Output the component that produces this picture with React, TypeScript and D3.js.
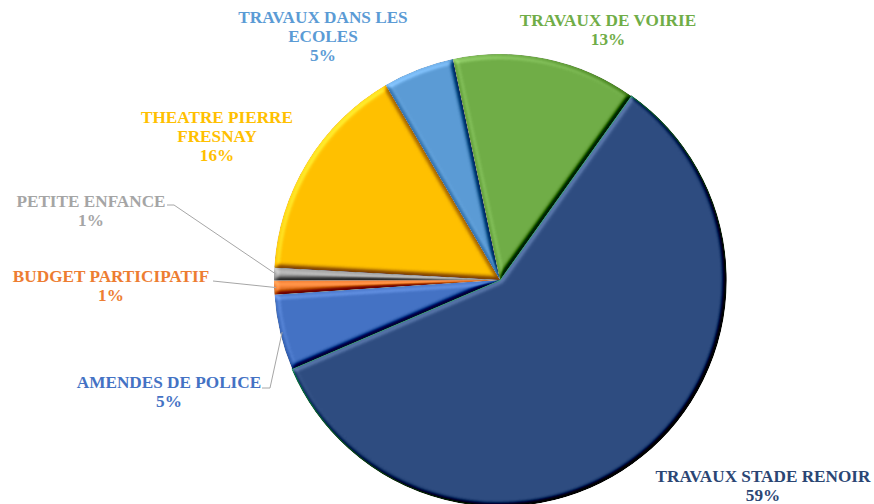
import * as d3 from "d3";

// slice order clockwise, starting at the Stade Renoir slice
const categories = [
  "TRAVAUX STADE RENOIR",
  "AMENDES DE POLICE",
  "BUDGET PARTICIPATIF",
  "PETITE ENFANCE",
  "THEATRE PIERRE FRESNAY",
  "TRAVAUX DANS LES ECOLES",
  "TRAVAUX DE VOIRIE",
];
const values = [58.7, 5.4, 1.0, 0.9, 15.7, 5.1, 13.2];
const labelLines = [
  ["TRAVAUX STADE RENOIR"],
  ["AMENDES DE POLICE"],
  ["BUDGET PARTICIPATIF"],
  ["PETITE ENFANCE"],
  ["THEATRE PIERRE", "FRESNAY"],
  ["TRAVAUX DANS LES", "ECOLES"],
  ["TRAVAUX DE VOIRIE"],
];
const colors = ["#2E4C80", "#4472C4", "#ED7D31", "#A5A5A5", "#FFC000", "#5B9BD5", "#70AD47"];
const textColors = ["#2B4674", "#4472C4", "#ED7D31", "#A5A5A5", "#FFC000", "#5B9BD5", "#70AD47"];

// label placement (text centre x, first baseline y) and leader lines
const labelPos = [
  [763, 482],
  [169, 388],
  [111, 282],
  [91, 207],
  [217, 123],
  [323, 23],
  [608, 26],
];
const leaderFrom: ([number, number, number] | null)[] = [
  null,
  [262, 388, 270], // start x, y, elbow x
  [213, 281, 213],
  [167, 205, 174],
  null,
  null,
  null,
];

const W = 874;
const H = 504;
const cx = 500;
const cy = 280;
const R = 226;
const start = (35.5 * Math.PI) / 180;

export default function App() {
  const total = d3.sum(values);
  const pie = d3
    .pie<number>()
    .sort(null)
    .startAngle(start)
    .endAngle(start + Math.PI * 2)
    .value((d) => d);
  const arcs = pie(values);
  const arc = d3.arc<d3.PieArcDatum<number>>().innerRadius(0).outerRadius(R);
  const rim = d3.arc<d3.PieArcDatum<number>>().innerRadius(R - 2).outerRadius(R - 2);

  return (
    <svg
      width={W}
      height={H}
      style={{ position: "absolute", left: 0, top: 0, background: "#fff" }}
    >
      <defs>
        <filter id="bevel" x="-10%" y="-10%" width="120%" height="120%" colorInterpolationFilters="sRGB">
          <feGaussianBlur in="SourceAlpha" stdDeviation="2.5" result="blur" />
          <feDiffuseLighting in="blur" surfaceScale="5" diffuseConstant="1" lightingColor="#ffffff" result="light">
            <feDistantLight azimuth={225} elevation={50} />
          </feDiffuseLighting>
          <feComposite in="SourceGraphic" in2="light" operator="arithmetic" k1="0" k2="1" k3="0.7" k4="-0.536" result="lit" />
          <feComposite in="lit" in2="SourceAlpha" operator="in" />
        </filter>
      </defs>
      <g transform={`translate(${cx},${cy})`}>
        {arcs.map((a, i) => (
          <path
            key={categories[i]}
            d={arc(a) || ""}
            fill={colors[i]}
            filter="url(#bevel)"
            stroke={i === 0 ? "#1B8A5C" : "none"}
            strokeWidth={i === 0 ? 1.4 : 0}
          />
        ))}
      </g>
      <g fill="none" stroke="#A6A6A6" strokeWidth={1}>
        {arcs.map((a, i) => {
          const l = leaderFrom[i];
          if (!l) return null;
          const [ex, ey] = rim.centroid(a);
          return (
            <polyline
              key={"l" + i}
              points={`${l[0]},${l[1]} ${l[2]},${l[1]} ${cx + ex},${cy + ey}`}
            />
          );
        })}
      </g>
      <g
        style={{ fontFamily: '"Liberation Serif", "Times New Roman", serif' }}
        fontWeight="bold"
        fontSize={17.2}
        textAnchor="middle"
      >
        {arcs.map((a, i) => {
          const [x, y] = labelPos[i];
          const lines = [...labelLines[i], `${Math.round((values[i] / total) * 100)}%`];
          return (
            <text key={"t" + i} x={x} y={y} fill={textColors[i]}>
              {lines.map((s, j) => (
                <tspan key={j} x={x} y={y + j * 19}>
                  {s}
                </tspan>
              ))}
            </text>
          );
        })}
      </g>
    </svg>
  );
}
